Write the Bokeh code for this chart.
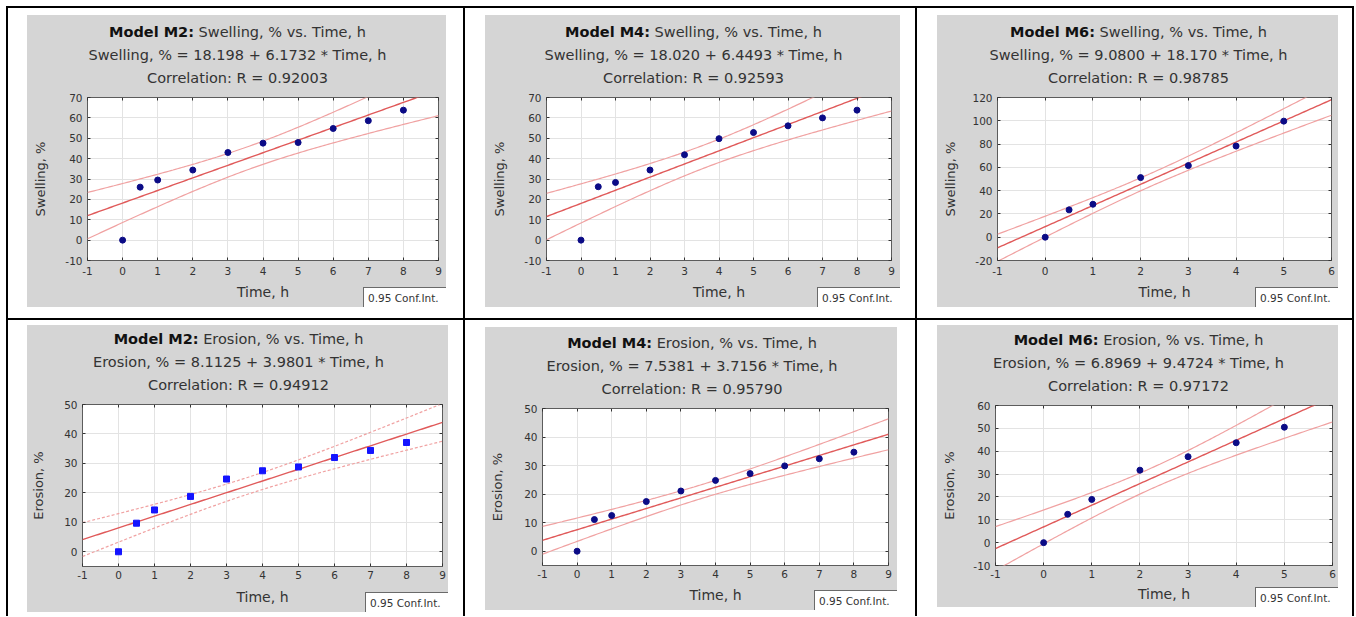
import numpy as np
from bokeh.plotting import figure
from bokeh.models import Range1d, FixedTicker, LinearAxis, Spacer, Div
from bokeh.layouts import row, column
from bokeh.embed import file_html
from bokeh.resources import INLINE

# ---------------- data ----------------
time_long = [0, 0.5, 1, 2, 3, 4, 5, 6, 7, 8]
time_short = [0, 0.5, 1, 2, 3, 4, 5]

swelling_m2 = [0.0, 26.0, 29.5, 34.4, 43.0, 47.6, 47.9, 54.8, 58.6, 63.8]
swelling_m4 = [0.0, 26.2, 28.3, 34.4, 41.9, 49.8, 52.8, 56.1, 60.0, 63.8]
swelling_m6 = [0.0, 23.5, 28.3, 51.2, 61.5, 78.3, 99.7]
erosion_m2 = [0.0, 9.7, 14.2, 18.8, 24.7, 27.5, 28.8, 32.0, 34.4, 37.1]
erosion_m4 = [0.0, 11.1, 12.5, 17.4, 21.1, 24.8, 27.2, 29.9, 32.4, 34.7]
erosion_m6 = [0.0, 12.4, 18.9, 31.7, 37.6, 43.7, 50.5]

model_names = ["Model M2:", "Model M4:", "Model M6:", "Model M2:", "Model M4:", "Model M6:"]
y_names = ["Swelling, %", "Swelling, %", "Swelling, %", "Erosion, %", "Erosion, %", "Erosion, %"]
x_name = "Time, h"
intercept_text = ["18.198", "18.020", "9.0800", "8.1125", "7.5381", "6.8969"]
slope_text = ["6.1732", "6.4493", "18.170", "3.9801", "3.7156", "9.4724"]
r_text = ["0.92003", "0.92593", "0.98785", "0.94912", "0.95790", "0.97172"]
conf_text = "0.95 Conf.Int."

x_ticks_long = [-1, 0, 1, 2, 3, 4, 5, 6, 7, 8, 9]
x_tick_labels_long = ["-1", "0", "1", "2", "3", "4", "5", "6", "7", "8", "9"]
x_ticks_short = [-1, 0, 1, 2, 3, 4, 5, 6]
x_tick_labels_short = ["-1", "0", "1", "2", "3", "4", "5", "6"]
y_ticks_swell = [-10, 0, 10, 20, 30, 40, 50, 60, 70]
y_tick_labels_swell = ["-10", "0", "10", "20", "30", "40", "50", "60", "70"]
y_ticks_swell6 = [-20, 0, 20, 40, 60, 80, 100, 120]
y_tick_labels_swell6 = ["-20", "0", "20", "40", "60", "80", "100", "120"]
y_ticks_eros = [0, 10, 20, 30, 40, 50]
y_tick_labels_eros = ["0", "10", "20", "30", "40", "50"]
y_ticks_eros6 = [-10, 0, 10, 20, 30, 40, 50, 60]
y_tick_labels_eros6 = ["-10", "0", "10", "20", "30", "40", "50", "60"]

x_range_long = (-1, 9)
x_range_short = (-1, 6)
y_ranges = [(-10, 70), (-10, 70), (-20, 120), (-5, 50), (-5, 50), (-10, 60)]
t_crit = {8: 2.306, 5: 2.571}

# ---------------- styling ----------------
FONT = "DejaVu Sans"
PANEL = "#d5d5d5"
TXT = "#333333"
REG = "#e05a5a"
CI = "#f0a2a2"
FIG_TOP = 6
BOX_W, BOX_H = 83, 20


def style_axis(ax, ticks, labels, standoff, lab_standoff):
    ax.ticker = FixedTicker(ticks=ticks)
    ax.major_label_overrides = {t: l for t, l in zip(ticks, labels)}
    ax.major_tick_in = 3
    ax.major_tick_out = 0
    ax.major_tick_line_color = "#333333"
    ax.minor_tick_line_color = None
    ax.axis_line_color = None
    ax.major_label_standoff = standoff
    ax.major_label_text_font = FONT
    ax.major_label_text_font_size = "10.5px"
    ax.major_label_text_color = TXT
    ax.axis_label_text_font = FONT
    ax.axis_label_text_font_style = "normal"
    ax.axis_label_text_color = TXT
    ax.axis_label_standoff = lab_standoff


def inner_axis(ticks):
    return LinearAxis(ticker=FixedTicker(ticks=ticks),
                      major_label_overrides={t: "" for t in ticks},
                      major_label_text_font_size="1px", major_label_standoff=0,
                      major_tick_in=3, major_tick_out=0, major_tick_line_color="#333333",
                      minor_tick_line_color=None, axis_line_color=None)


def build(i, xs, ys, x_rng, xt, xtl, yt, ytl, geo, marker, pcolor, psize, ci_dash):
    pw, ph, fl, fr, ft, fb, ylab_sd, xtick_sd, xlab_sd = geo
    hd = ft - FIG_TOP
    fig_h = ph - hd
    y_rng = y_ranges[i]
    p = figure(width=pw, height=fig_h, x_range=Range1d(*x_rng), y_range=Range1d(*y_rng),
               toolbar_location=None, output_backend="svg", title=None,
               min_border_left=fl, min_border_right=fr, min_border_top=FIG_TOP,
               min_border_bottom=fb,
               border_fill_color=PANEL, background_fill_color="white",
               outline_line_color="#5c5c5c", outline_line_width=1,
               x_axis_label=x_name, y_axis_label=y_names[i])
    style_axis(p.xaxis[0], xt, xtl, xtick_sd, xlab_sd)
    p.xaxis[0].axis_label_text_font_size = "14px"
    style_axis(p.yaxis[0], yt, ytl, 5, ylab_sd)
    p.yaxis[0].axis_label_text_font_size = "13px"
    p.add_layout(inner_axis(xt), "above")
    p.add_layout(inner_axis(yt), "right")
    p.xgrid.ticker = FixedTicker(ticks=xt)
    p.ygrid.ticker = FixedTicker(ticks=yt)
    p.xgrid.grid_line_color = "#e3e3e3"
    p.ygrid.grid_line_color = "#e3e3e3"

    # regression line (coefficients from the chart) and 95% confidence band
    xa = np.array(xs, dtype=float)
    ya = np.array(ys, dtype=float)
    a = float(intercept_text[i])
    b = float(slope_text[i])
    n = len(xa)
    resid = ya - (a + b * xa)
    s = np.sqrt(np.sum(resid ** 2) / (n - 2))
    xbar = xa.mean()
    sxx = np.sum((xa - xbar) ** 2)
    xg = np.linspace(x_rng[0], x_rng[1], 161)
    yg = a + b * xg
    half = t_crit[n - 2] * s * np.sqrt(1.0 / n + (xg - xbar) ** 2 / sxx)
    p.line(xg, yg + half, line_color=CI, line_width=1.2, line_dash=ci_dash)
    p.line(xg, yg - half, line_color=CI, line_width=1.2, line_dash=ci_dash)
    p.line(xg, yg, line_color=REG, line_width=1.4)
    p.scatter(xs, ys, marker=marker, size=psize, fill_color=pcolor, line_color=pcolor)

    # header with the three title lines
    pad_top = ft - 76.5
    html = ('<div style="width:%dpx;padding-top:%.1fpx;line-height:23px;text-align:center;'
            'font-family:\'DejaVu Sans\';font-size:14.5px;color:%s;white-space:nowrap">'
            '<b style="color:#111111">%s</b> %s vs. %s<br>%s = %s + %s * %s<br>'
            'Correlation: R = %s</div>') % (pw + 2, pad_top, TXT, model_names[i], y_names[i],
                                            x_name, y_names[i], intercept_text[i],
                                            slope_text[i], x_name, r_text[i])
    head = Div(text=html, width=pw, height=hd, margin=0,
               styles={"background-color": PANEL, "overflow": "hidden"})

    # confidence-interval legend box, pulled up over the bottom-right corner
    conf_html = ('<div style="font-family:\'DejaVu Sans\';font-size:10.5px;color:%s;'
                 'padding:4px 0 0 4px;white-space:nowrap;line-height:12px">%s</div>') % (TXT, conf_text)
    conf = Div(text=conf_html, width=BOX_W, height=BOX_H, margin=(-BOX_H, 0, 0, pw - BOX_W),
               styles={"background-color": "white", "border-left": "1px solid #6a6a6a",
                       "border-top": "1px solid #6a6a6a", "box-sizing": "border-box",
                       "overflow": "hidden", "position": "relative", "z-index": "3"})
    return column(head, p, conf, styles={"background-color": PANEL})


# geometry: width, height, frame left, right, top, bottom, ylabel standoff, xtick standoff, xlabel standoff
geos = [
    (419, 292, 60, 8, 82, 47, 14, 6, 6),
    (415, 292, 61, 9, 82, 47, 14, 6, 6),
    (401, 292, 60, 7, 82, 47, 11, 6, 6),
    (421, 287, 55, 6, 79, 46, 15, 4, 7),
    (412, 283, 57, 9, 81, 45, 16, 4, 6),
    (401, 282, 58, 6, 80, 42, 13, 4, 5),
]

p1 = build(0, time_long, swelling_m2, x_range_long, x_ticks_long, x_tick_labels_long,
           y_ticks_swell, y_tick_labels_swell, geos[0], "circle", "#0b0b86", 6, "solid")
p2 = build(1, time_long, swelling_m4, x_range_long, x_ticks_long, x_tick_labels_long,
           y_ticks_swell, y_tick_labels_swell, geos[1], "circle", "#0b0b86", 6, "solid")
p3 = build(2, time_short, swelling_m6, x_range_short, x_ticks_short, x_tick_labels_short,
           y_ticks_swell6, y_tick_labels_swell6, geos[2], "circle", "#0b0b86", 6, "solid")
p4 = build(3, time_long, erosion_m2, x_range_long, x_ticks_long, x_tick_labels_long,
           y_ticks_eros, y_tick_labels_eros, geos[3], "square", "#1414ff", 6, "3 2")
p5 = build(4, time_long, erosion_m4, x_range_long, x_ticks_long, x_tick_labels_long,
           y_ticks_eros, y_tick_labels_eros, geos[4], "circle", "#0b0b86", 6, "solid")
p6 = build(5, time_short, erosion_m6, x_range_short, x_ticks_short, x_tick_labels_short,
           y_ticks_eros6, y_tick_labels_eros6, geos[5], "circle", "#0b0b86", 6, "solid")


def sp(w, h, color=None):
    if color:
        return Spacer(width=w, height=h, styles={"background-color": color})
    return Spacer(width=w, height=h)


def cell(fig, pw, ph, w, h, lp, tp):
    rp = w - lp - pw
    bp = h - tp - ph
    return column(sp(w, tp), row(sp(lp, ph), fig, sp(rp, ph)), sp(w, bp))


W = 1348
r1h, r2h = 310, 296
row1 = row(sp(2, r1h, "black"), cell(p1, 419, 292, 455, r1h, 19, 7),
           sp(2, r1h, "black"), cell(p2, 415, 292, 450, r1h, 20, 7),
           sp(2, r1h, "black"), cell(p3, 401, 292, 435, r1h, 20, 7),
           sp(2, r1h, "black"))
row2 = row(sp(2, r2h, "black"), cell(p4, 421, 287, 455, r2h, 19, 5),
           sp(2, r2h, "black"), cell(p5, 412, 283, 450, r2h, 20, 7),
           sp(2, r2h, "black"), cell(p6, 401, 282, 435, r2h, 20, 5),
           sp(2, r2h, "black"))
table = column(sp(W, 2, "black"), row1, sp(W, 2, "black"), row2)
layout = column(sp(W + 6, 6), row(sp(6, 6 + 2 + r1h + 2 + r2h - 6), table))

open("out.html", "w").write(file_html(layout, INLINE))
